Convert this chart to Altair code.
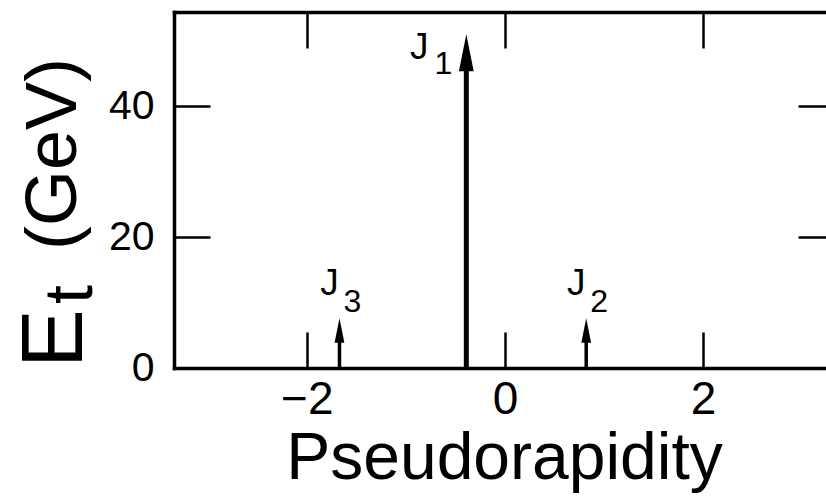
import altair as alt
import pandas as pd

# Jets: pseudorapidity position, transverse energy (GeV), subscript index
eta = [-0.39, 0.82, -1.67]
et = [51.0, 7.6, 7.6]
jet_index = ["1", "2", "3"]

x_ticks = [-2, 0, 2]
y_ticks = [0, 20, 40]
x_domain = [-3.34, 3.24]
y_domain = [0, 54.4]

y_title_parts = ["E", "t", "(GeV)"]
x_title = "Pseudorapidity"

jets = pd.DataFrame({"eta": eta, "et": et, "idx": jet_index})

W, H = 652, 356
FONT = "Liberation Sans"

xs = alt.Scale(domain=x_domain, nice=False, zero=False)
ys = alt.Scale(domain=y_domain, nice=False, zero=False)

# bottom axis: line + labels + title
ax_x_bottom = alt.Axis(
    orient="bottom", values=x_ticks, ticks=False, tickSize=0, grid=False,
    domain=True, domainColor="black", domainWidth=3.5, domainCap="square",
    labelFont=FONT, labelFontSize=46, labelColor="black", labelPadding=9,
    labelFlush=False, labelOverlap=False,
    title=x_title, titleFont=FONT, titleFontSize=66, titleFontWeight="normal",
    titleColor="black", titleX=330, titleY=110, titleAlign="center",
    titleBaseline="alphabetic",
)
# inward ticks along the bottom edge
ax_x_bottom_ticks = alt.Axis(
    orient="top", offset=-H, values=x_ticks, ticks=True, tickSize=36,
    tickWidth=2.5, tickColor="black", labels=False, domain=False, grid=False,
    title=None,
)
# top frame line with inward ticks
ax_x_top = alt.Axis(
    orient="bottom", offset=-H, values=x_ticks, ticks=True, tickSize=36,
    tickWidth=2.5, tickColor="black", labels=False, domain=True,
    domainColor="black", domainWidth=3.5, domainCap="square", grid=False,
    title=None,
)

# left axis: line + labels
ax_y_left = alt.Axis(
    orient="left", values=y_ticks, ticks=False, tickSize=0, grid=False,
    domain=True, domainColor="black", domainWidth=3.5, domainCap="square",
    labelFont=FONT, labelFontSize=41, labelColor="black", labelPadding=20,
    labelFlush=False, labelOverlap=False, title=None,
)
# inward ticks along the left edge
ax_y_left_ticks = alt.Axis(
    orient="right", offset=-W, values=y_ticks[1:], ticks=True, tickSize=36,
    tickWidth=2.5, tickColor="black", labels=False, domain=False, grid=False,
    title=None,
)
# inward ticks along the right edge
ax_y_right_ticks = alt.Axis(
    orient="left", offset=-W, values=y_ticks[1:], ticks=True, tickSize=28,
    tickWidth=2.5, tickColor="black", labels=False, domain=False, grid=False,
    title=None,
)

big = alt.datum.et > 20
base = alt.Chart(jets)

stems = base.mark_rule(color="black", yOffset=18).encode(
    x=alt.X("eta:Q", scale=xs, axis=ax_x_bottom),
    y=alt.Y("et:Q", scale=ys, axis=ax_y_left),
    y2=alt.datum(0),
    strokeWidth=alt.condition(big, alt.value(5), alt.value(3.5)),
)

ARROW_HEAD = "M0,0L0.4,2L-0.4,2Z"
heads = base.mark_point(
    shape=ARROW_HEAD, filled=True, color="black", opacity=1, strokeWidth=0
).encode(
    x=alt.X("eta:Q", scale=xs, axis=ax_x_bottom_ticks),
    y=alt.Y("et:Q", scale=ys, axis=ax_y_left_ticks),
    size=alt.condition(big, alt.value(1369), alt.value(600)),
)

j_big = base.transform_filter(big).mark_text(
    text="J", font=FONT, fontSize=37, color="black", align="center",
    baseline="alphabetic", dx=-47, dy=25,
).encode(
    x=alt.X("eta:Q", scale=xs, axis=ax_x_top),
    y=alt.Y("et:Q", scale=ys, axis=ax_y_right_ticks),
)
sub_big = base.transform_filter(big).mark_text(
    font=FONT, fontSize=32, color="black", align="center",
    baseline="alphabetic", dx=-23, dy=40,
).encode(
    x=alt.X("eta:Q", scale=xs, axis=None),
    y=alt.Y("et:Q", scale=ys, axis=None),
    text="idx:N",
)
j_small = base.transform_filter(~big).mark_text(
    text="J", font=FONT, fontSize=37, color="black", align="center",
    baseline="alphabetic", dx=-10, dy=-23,
).encode(
    x=alt.X("eta:Q", scale=xs, axis=None),
    y=alt.Y("et:Q", scale=ys, axis=None),
)
sub_small = base.transform_filter(~big).mark_text(
    font=FONT, fontSize=32, color="black", align="center",
    baseline="alphabetic", dx=13, dy=-6,
).encode(
    x=alt.X("eta:Q", scale=xs, axis=None),
    y=alt.Y("et:Q", scale=ys, axis=None),
    text="idx:N",
)

# rotated y-axis title with subscript, built from three pieces
one_row = pd.DataFrame({"k": [0]})
def title_piece(text, size, x, y):
    return alt.Chart(one_row).mark_text(
        text=text, font=FONT, fontSize=size, color="black", angle=270,
        align="left", baseline="alphabetic",
    ).encode(x=alt.value(x), y=alt.value(y))

y_title = [
    title_piece(y_title_parts[0], 88, -92, 356),
    title_piece(y_title_parts[1], 68, -82, 292),
    title_piece(y_title_parts[2], 72, -98, 238),
]

chart = alt.layer(
    stems, heads, j_big, sub_big, j_small, sub_small, *y_title
).resolve_axis(
    x="independent", y="independent"
).properties(
    width=W, height=H,
    padding={"left": 174, "top": 12, "right": 0, "bottom": 130},
    autosize=alt.AutoSizeParams(type="none"),
    background="white",
).configure_view(stroke=None)

chart.save("out.html", embed_options={"renderer": "svg", "actions": False})
